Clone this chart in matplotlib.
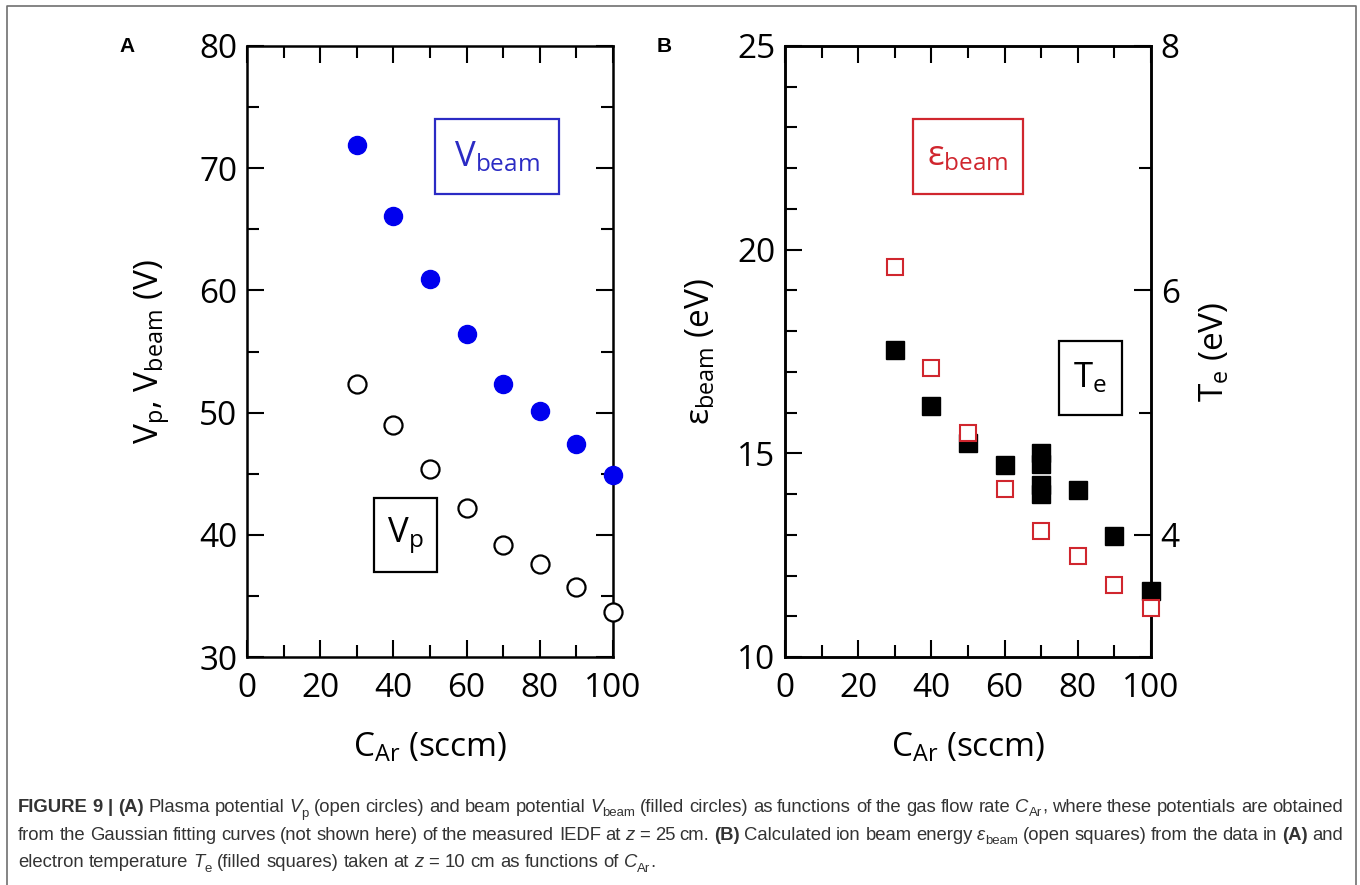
import re
import matplotlib
matplotlib.use('Agg')
import matplotlib.pyplot as plt
from matplotlib.ticker import MultipleLocator
from matplotlib.patches import Rectangle
from matplotlib.lines import Line2D
from matplotlib.font_manager import FontProperties

plt.rcParams['font.family'] = ['Open Sans', 'DejaVu Sans']
plt.rcParams['mathtext.fontset'] = 'custom'
plt.rcParams['mathtext.rm'] = 'Open Sans'
plt.rcParams['mathtext.it'] = 'Open Sans'
plt.rcParams['mathtext.bf'] = 'Open Sans'

## panel A : potentials vs gas flow
c_ar = [30, 40, 50, 60, 70, 80, 90, 100]
v_beam = [71.9, 66.1, 60.9, 56.4, 52.3, 50.1, 47.4, 44.9]
v_p = [52.3, 49.0, 45.4, 42.2, 39.2, 37.6, 35.7, 33.7]

## panel B : beam energy and electron temperature
eps_beam = [19.57, 17.1, 15.5, 14.13, 13.1, 12.49, 11.76, 11.2]
c_te = [30, 40, 50, 60, 70, 70, 70, 70, 80, 90, 100]
t_e = [5.51, 5.05, 4.75, 4.57, 4.67, 4.58, 4.41, 4.33, 4.37, 3.99, 3.54]

blue = '#0000ee'
blue_box = '#2b2bc4'
red = '#d0262e'

W, H = 1360, 885
fig = plt.figure(figsize=(W / 100, H / 100), dpi=100)


def px_axes(x0, y0, x1, y1):
    # axes placed with pixel corners (from top-left)
    return fig.add_axes([x0 / W, 1 - y1 / H, (x1 - x0) / W, (y1 - y0) / H])


def style(ax, **kw):
    ax.tick_params(which='both', direction='in', width=1.5, labelsize=24, **kw)
    ax.tick_params(which='major', length=12.5)
    ax.tick_params(which='minor', length=8.5)
    ax.tick_params(axis='x', pad=11)
    ax.tick_params(axis='y', pad=7)
    for s in ax.spines.values():
        s.set_linewidth(1.8)


ax_a = px_axes(247, 46, 613, 657)
ax_b = px_axes(785, 46, 1151, 657)
ax_t = ax_b.twinx()

# panel A
ax_a.plot(c_ar, v_p, 'o', ms=13, mfc='white', mec='black', mew=1.6, clip_on=False, zorder=3)
ax_a.plot(c_ar, v_beam, 'o', ms=13, color=blue, mec=blue, clip_on=False, zorder=3)
ax_a.set_xlim(0, 100)
ax_a.set_ylim(30, 80)
ax_a.xaxis.set_major_locator(MultipleLocator(20))
ax_a.xaxis.set_minor_locator(MultipleLocator(10))
ax_a.yaxis.set_major_locator(MultipleLocator(10))
ax_a.yaxis.set_minor_locator(MultipleLocator(5))
style(ax_a, top=True, right=True)
ax_a.set_xlabel('C$_\\mathrm{Ar}$ (sccm)', fontsize=24)
ax_a.set_ylabel('V$_\\mathrm{p}$, V$_\\mathrm{beam}$ (V)', fontsize=24)
ax_a.xaxis.set_label_coords(0.5, -0.122)
ax_a.yaxis.set_label_coords(-0.205, 0.5)

ax_a.add_patch(Rectangle((51.5, 67.9), 33.8, 6.1, fill=False, ec=blue_box, lw=1.6))
ax_a.text(68.4, 70.9, 'V$_\\mathrm{beam}$', color=blue_box, fontsize=25, ha='center', va='center')
ax_a.add_patch(Rectangle((34.8, 36.95), 17.0, 6.05, fill=False, ec='black', lw=1.6))
ax_a.text(43.3, 39.9, 'V$_\\mathrm{p}$', color='black', fontsize=25, ha='center', va='center')

# panel B
ax_t.plot(c_te, t_e, 's', ms=12.5, color='black', clip_on=False)
ax_b.plot(c_ar, eps_beam, 's', ms=12, mfc='white', mec=red, mew=1.5, clip_on=False, zorder=3)
ax_b.set_zorder(ax_t.get_zorder() + 1)
ax_b.patch.set_visible(False)
ax_b.set_xlim(0, 100)
ax_b.set_ylim(10, 25)
ax_t.set_ylim(3, 8)
ax_b.xaxis.set_major_locator(MultipleLocator(20))
ax_b.xaxis.set_minor_locator(MultipleLocator(10))
ax_b.yaxis.set_major_locator(MultipleLocator(5))
ax_b.yaxis.set_minor_locator(MultipleLocator(1))
ax_t.yaxis.set_major_locator(MultipleLocator(2))
ax_t.yaxis.set_minor_locator(MultipleLocator(1))
style(ax_b, top=True, right=False)
style(ax_t)
ax_b.set_xlabel('C$_\\mathrm{Ar}$ (sccm)', fontsize=24)
ax_b.set_ylabel('\u03b5$_\\mathrm{beam}$ (eV)', fontsize=24)
ax_t.set_ylabel('T$_\\mathrm{e}$ (eV)', fontsize=24)
ax_b.xaxis.set_label_coords(0.5, -0.122)
ax_b.yaxis.set_label_coords(-0.185, 0.5)
ax_t.yaxis.set_label_coords(1.13, 0.5)

ax_b.add_patch(Rectangle((34.9, 21.37), 30.2, 1.83, fill=False, ec=red, lw=1.6))
ax_b.text(50.0, 22.3, '\u03b5$_\\mathrm{beam}$', color=red, fontsize=25, ha='center', va='center')
ax_b.add_patch(Rectangle((74.9, 15.95), 17.1, 1.8, fill=False, ec='black', lw=1.6))
ax_b.text(83.4, 16.85, 'T$_\\mathrm{e}$', color='black', fontsize=25, ha='center', va='center')

# panel letters
fig.text(127 / W, 1 - 47 / H, 'A', family='Liberation Sans', fontweight='bold', fontsize=15,
         ha='center', va='center')
fig.text(664 / W, 1 - 47 / H, 'B', family='Liberation Sans', fontweight='bold', fontsize=15,
         ha='center', va='center')

# frame around the figure (open at the bottom)
fig.add_artist(Line2D([7 / W, 7 / W, 1356 / W, 1356 / W], [0, 1 - 6 / H, 1 - 6 / H, 0],
                      color='#707070', lw=1.2, transform=fig.transFigure))

## caption
cap_size = 13.3
cap_color = '#333333'
renderer = fig.canvas.get_renderer()


def cap_prop(kind):
    if kind == 'b':
        return FontProperties(family='Liberation Sans', weight='bold', size=cap_size)
    if kind == 'i':
        return FontProperties(family='Liberation Sans', style='italic', size=cap_size)
    if kind == 's':
        return FontProperties(family='Liberation Sans', size=cap_size * 0.72)
    return FontProperties(family='Liberation Sans', size=cap_size)


def text_width(s, prop):
    a = renderer.get_text_width_height_descent('|' + s + '|', prop, ismath=False)[0]
    b = renderer.get_text_width_height_descent('||', prop, ismath=False)[0]
    return a - b


def caption_line(runs, x0, y, x1=None):
    pieces = []
    for txt, kind in runs:
        for p in re.split(r'( )', txt):
            if p:
                pieces.append((p, kind))
    props = [cap_prop(k) for p, k in pieces]
    widths = [text_width(p, pr) for (p, k), pr in zip(pieces, props)]
    n_sp = sum(1 for p, k in pieces if p == ' ')
    extra = 0
    if x1 is not None and n_sp:
        extra = (x1 - x0 - sum(widths)) / n_sp
    x = x0
    for (p, k), pr, w in zip(pieces, props, widths):
        if p == ' ':
            x += w + extra
            continue
        dy = 4.5 if k == 's' else 0
        fig.text(x / W, 1 - (y + dy) / H, p, fontproperties=pr, color=cap_color,
                 ha='left', va='baseline')
        x += w


line1 = [('FIGURE 9 | (A)', 'b'), (' Plasma potential ', 'n'), ('V', 'i'), ('p', 's'),
         (' (open circles) and beam potential ', 'n'), ('V', 'i'), ('beam', 's'),
         (' (filled circles) as functions of the gas flow rate ', 'n'), ('C', 'i'), ('Ar', 's'),
         (', where these potentials are obtained', 'n')]
line2 = [('from the Gaussian fitting curves (not shown here) of the measured IEDF at ', 'n'),
         ('z', 'i'), (' = 25 cm. ', 'n'), ('(B)', 'b'), (' Calculated ion beam energy ', 'n'),
         ('\u03b5', 'i'), ('beam', 's'), (' (open squares) from the data in ', 'n'), ('(A)', 'b'),
         (' and', 'n')]
line3 = [('electron temperature ', 'n'), ('T', 'i'), ('e', 's'), (' (filled squares) taken at ', 'n'),
         ('z', 'i'), (' = 10 cm as functions of ', 'n'), ('C', 'i'), ('Ar', 's'), ('.', 'n')]

caption_line(line1, 18, 812, 1343)
caption_line(line2, 18, 840, 1343)
caption_line(line3, 18, 867)

fig.savefig('out.png', dpi=100, facecolor='white')
